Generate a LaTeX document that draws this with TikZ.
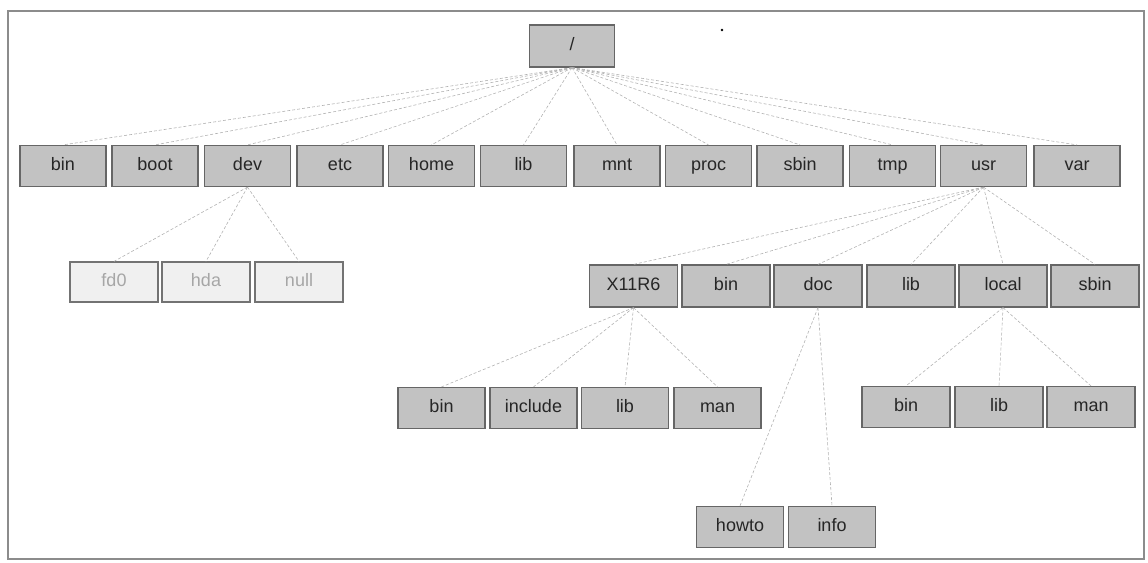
\documentclass[tikz,border=0pt]{standalone}
\usepackage{fontspec}
\setmainfont{Liberation Sans}
\begin{document}
\begin{tikzpicture}[x=1pt,y=-1pt,
  dir/.style={draw=black!60,line width=1.2pt,fill=black!24,minimum width=86pt,minimum height=41pt,inner sep=0pt,
    text height=13pt,text depth=4pt,
    font=\fontsize{18}{20}\selectfont,text=black!85},
  faded/.style={dir,fill=black!6,draw=black!55,text=black!35},
  link/.style={draw=black!30,line width=0.6pt,dash pattern=on 3pt off 2pt}]
\useasboundingbox (0,0) rectangle (1148,562);
\draw[black!45,line width=1.2pt] (8,11) rectangle (1144,559);
\fill[black] (722,30) circle (1.3pt);
% root
\node[dir,minimum width=85pt,minimum height=42pt] (root) at (572,46) {/};
% level 1
\node[dir] (bin)  at (63,166)   {bin};
\node[dir] (boot) at (155,166)  {boot};
\node[dir] (dev)  at (247.5,166){dev};
\node[dir] (etc)  at (340,166)  {etc};
\node[dir] (home) at (431.5,166){home};
\node[dir] (lib)  at (523.5,166){lib};
\node[dir] (mnt)  at (617,166)  {mnt};
\node[dir] (proc) at (708.5,166){proc};
\node[dir] (sbin) at (800,166)  {sbin};
\node[dir] (tmp)  at (892.5,166){tmp};
\node[dir] (usr)  at (983.5,166){usr};
\node[dir] (var)  at (1077,166) {var};
% dev children
\node[faded,minimum width=88pt,minimum height=40pt] (fd) at (114,282) {fd0};
\node[faded,minimum width=88pt,minimum height=40pt] (hda) at (206,282) {hda};
\node[faded,minimum width=88pt,minimum height=40pt] (null) at (299,282) {null};
% usr children
\node[dir,minimum width=88pt,minimum height=42pt] (x11) at (633.5,286) {X11R6};
\node[dir,minimum width=88pt,minimum height=42pt] (ubin) at (726,286) {bin};
\node[dir,minimum width=88pt,minimum height=42pt] (udoc) at (818,286) {doc};
\node[dir,minimum width=88pt,minimum height=42pt] (ulib) at (911,286) {lib};
\node[dir,minimum width=88pt,minimum height=42pt] (uloc) at (1003,286) {local};
\node[dir,minimum width=88pt,minimum height=42pt] (usbin) at (1095,286) {sbin};
% X11R6 children
\node[dir,minimum width=87pt] (xbin) at (441.5,408) {bin};
\node[dir,minimum width=87pt] (xinc) at (533.5,408) {include};
\node[dir,minimum width=87pt] (xlib) at (625,408) {lib};
\node[dir,minimum width=87pt] (xman) at (717.5,408) {man};
% local children
\node[dir,minimum width=88pt] (lbin) at (906,407) {bin};
\node[dir,minimum width=88pt] (llib) at (999,407) {lib};
\node[dir,minimum width=88pt] (lman) at (1091,407) {man};
% doc children
\node[dir,minimum width=87pt] (howto) at (740,527) {howto};
\node[dir,minimum width=87pt] (info) at (832,527) {info};
% connectors
\foreach \c in {bin,boot,dev,etc,home,lib,mnt,proc,sbin,tmp,usr,var}
  \draw[link] (root.south) -- (\c.north);
\foreach \c in {fd,hda,null}
  \draw[link] (dev.south) -- (\c.north);
\foreach \c in {x11,ubin,udoc,ulib,uloc,usbin}
  \draw[link] (usr.south) -- (\c.north);
\foreach \c in {xbin,xinc,xlib,xman}
  \draw[link] (x11.south) -- (\c.north);
\foreach \c in {lbin,llib,lman}
  \draw[link] (uloc.south) -- (\c.north);
\foreach \c in {howto,info}
  \draw[link] (udoc.south) -- (\c.north);
\end{tikzpicture}
\end{document}
